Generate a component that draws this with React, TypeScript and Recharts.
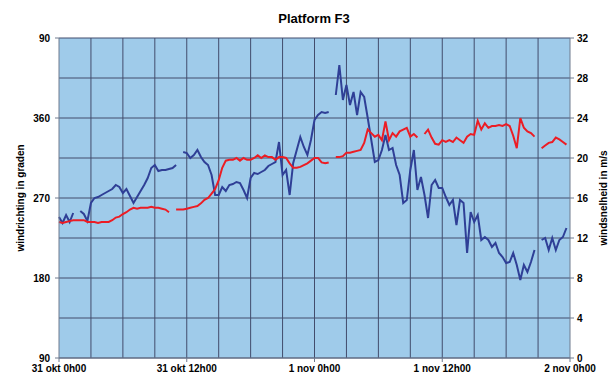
import React from 'react';
import { LineChart, Line, XAxis, YAxis, CartesianGrid, ReferenceLine } from 'recharts';

// 20-minute samples from 31 okt 0h00 through 2 nov 0h00
const STEP_HOURS = 1 / 3;

// windrichting (graden), null = no measurement
const windDirection: (number | null)[] = [
  243, 242, 243, 244, 245, 245, 245, 245, 243, 243,
  243, 242, 243, 243, 243, 245, 248, 249, 252, 254,
  257, 259, 258, 259, 259, 259, 260, 259, 259, 258,
  257, 254, null, 257, 257, 257, 258, 259, 260, 261,
  264, 268, 270, 275, 280, 290, 304, 312, 313, 313,
  315, 312, 315, 313, 313, 315, 318, 315, 318, 316,
  316, 313, 316, 316, 315, 309, 304, 304, 305, 307,
  309, 312, 315, 315, 310, 309, 310, null, 316, 316,
  317, 321, 321, 322, 323, 324, 332, 347, 343, 339,
  341, 335, 356, 335, 343, 339, 345, 347, 349, 339,
  342, 338, null, 342, 347, 338, 331, 330, 335, 333,
  335, 333, 338, 335, 332, 339, 342, 341, 357, 347,
  354, 349, 351, 351, 352, 351, 353, 351, 340, 326,
  360, 349, 345, 343, 339, null, 326, 329, 332, 333,
  338, 336, 333, 330, null,
];

// windsnelheid (m/s)
const windSpeed: (number | null)[] = [
  14.1, 13.5, 14.3, 13.6, 14.5, null, 14.7, 14.4, 13.7, 15.5,
  16.0, 16.1, 16.3, 16.5, 16.7, 16.9, 17.3, 17.1, 16.5, 16.9,
  16.2, 15.5, 16.1, 16.7, 17.3, 18.0, 19.0, 19.3, 18.7, 18.8,
  18.8, 18.9, 19.0, 19.3, null, 20.6, 20.5, 20.0, 20.3, 20.8,
  20.1, 19.6, 19.3, 18.3, 16.3, 16.3, 17.1, 16.7, 17.3, 17.4,
  17.6, 17.5, 16.8, 16.0, 18.0, 18.5, 18.4, 18.6, 18.8, 19.2,
  19.4, 19.6, 21.6, 18.3, 18.8, 16.3, 19.5, 20.8, 22.1, 21.1,
  20.3, 21.8, 23.8, 24.3, 24.6, 24.5, 24.6, null, 26.3, 29.3,
  25.8, 27.3, 25.3, 26.6, 24.3, 26.6, 26.1, 24.0, 21.8, 19.6,
  19.8, 20.8, 22.3, 20.8, 21.0, 19.3, 18.3, 15.5, 15.8, 18.8,
  20.8, 16.8, 18.1, 16.3, 14.0, 17.3, 17.8, 17.0, 17.0, 16.1,
  15.3, 15.8, 13.3, 15.8, 15.5, 10.5, 14.6, 13.6, 14.3, 11.8,
  12.1, 11.8, 11.1, 11.5, 10.5, 10.1, 9.5, 9.6, 10.5, 9.3,
  7.8, 9.3, 8.6, 9.6, 10.8, null, 11.8, 12.0, 10.8, 12.0,
  10.8, 11.8, 12.1, 13.0, null,
];

const labelHours = [0, 12, 24, 36, 48];
const labelTexts = ['31 okt 0h00', '31 okt 12h00', '1 nov 0h00', '1 nov 12h00', '2 nov 0h00'];
const gridHours = [3, 6, 9, 15, 18, 21, 27, 30, 33, 39, 42, 45, 12, 24, 36];
const directionTicks = [90, 180, 270, 360, 450];
const speedTicks = [0, 4, 8, 12, 16, 20, 24, 28, 32];

const data = windSpeed.map((speed, i) => ({
  hour: i * STEP_HOURS,
  speed,
  direction: windDirection[i],
}));

const FONT = '"Liberation Sans", Arial, sans-serif';
const tickStyle = { fontSize: 10, fontWeight: 'bold', fill: '#000', fontFamily: FONT };
const axisColor = '#6f7a8e';
const gridColor = '#424c6c';

export default function App() {
  return (
    <div style={{ position: 'fixed', left: 0, top: 0, width: 614, height: 381, background: '#fff', fontFamily: FONT }}>
      <div style={{ position: 'absolute', top: 11, left: 0, width: 628, textAlign: 'center', fontSize: 13, fontWeight: 'bold', color: '#000' }}>
        Platform F3
      </div>
      <LineChart width={614} height={381} data={data} margin={{ top: 38, right: 0, bottom: 0, left: 0 }}>
        <CartesianGrid yAxisId="speed" vertical={false} stroke={gridColor} fill="#9fcbea" fillOpacity={1} />
        {gridHours.map((h) => (
          <ReferenceLine key={h} x={h} yAxisId="speed" stroke={gridColor} strokeWidth={1} ifOverflow="visible" />
        ))}
        <XAxis
          dataKey="hour"
          type="number"
          domain={[0, 48]}
          ticks={labelHours}
          interval={0}
          tickFormatter={(v: number) => labelTexts[labelHours.indexOf(v)] ?? ''}
          tick={tickStyle}
          tickSize={4}
          tickMargin={3}
          height={23}
          stroke={axisColor}
        />
        <YAxis
          yAxisId="dir"
          orientation="left"
          domain={[90, 450]}
          ticks={directionTicks}
          interval={0}
          tickFormatter={(v: number) => String(v > 360 ? v - 360 : v)}
          tick={tickStyle}
          tickSize={4}
          tickMargin={5}
          width={59}
          stroke={axisColor}
          label={{
            value: 'windrichting in graden',
            angle: -90,
            position: 'insideLeft',
            offset: 20,
            style: { textAnchor: 'middle', fontSize: 10, fontWeight: 'bold', fill: '#000', fontFamily: FONT },
          }}
        />
        <YAxis
          yAxisId="speed"
          orientation="right"
          domain={[0, 32]}
          ticks={speedTicks}
          interval={0}
          tick={tickStyle}
          tickSize={4}
          tickMargin={3}
          width={44}
          stroke={axisColor}
          label={{
            value: 'windsnelheid in m/s',
            angle: -90,
            position: 'insideRight',
            offset: 11,
            style: { textAnchor: 'middle', fontSize: 10, fontWeight: 'bold', fill: '#000', fontFamily: FONT },
          }}
        />
        <Line
          yAxisId="speed"
          dataKey="speed"
          type="linear"
          stroke="#2f3f96"
          strokeWidth={2}
          dot={false}
          activeDot={false}
          isAnimationActive={false}
        />
        <Line
          yAxisId="dir"
          dataKey="direction"
          type="linear"
          stroke="#ec1c24"
          strokeWidth={2}
          dot={false}
          activeDot={false}
          isAnimationActive={false}
        />
      </LineChart>
    </div>
  );
}
